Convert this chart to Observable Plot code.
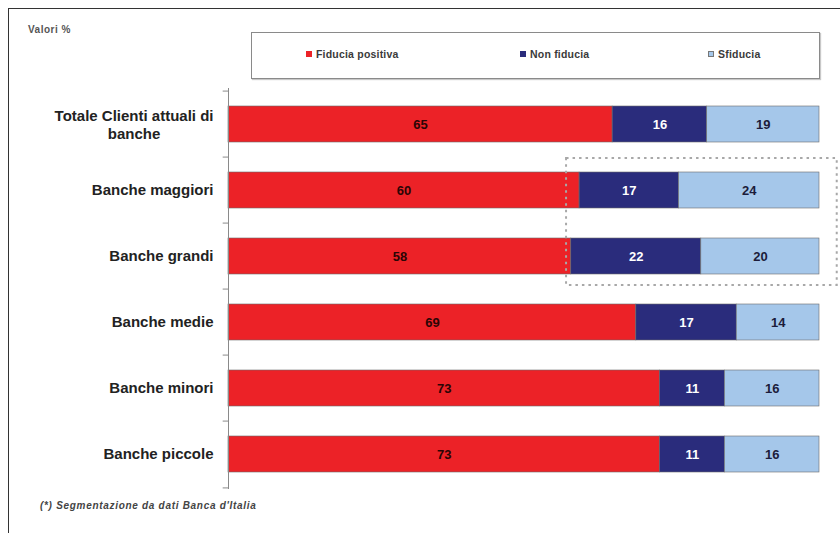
<!DOCTYPE html>
<html>
<head>
<meta charset="utf-8">
<script src="https://cdn.jsdelivr.net/npm/d3@7"></script>
<script src="https://cdn.jsdelivr.net/npm/@observablehq/plot@0.6"></script>
<style>
  html, body { margin: 0; padding: 0; background: #fff; }
  body { font-family: "Liberation Sans", Arial, sans-serif; }
  #wrap { position: relative; width: 840px; height: 533px; overflow: hidden; background: #fff; }
  #wrap svg { position: absolute; left: 0; top: 0; }
  .frame-top { position: absolute; left: 8px; top: 8px; width: 840px; height: 0; border-top: 1.5px solid #333; }
  .frame-left { position: absolute; left: 8px; top: 8px; width: 0; height: 540px; border-left: 1.5px solid #333; }
  .unit { position: absolute; left: 28px; top: 24px; font-size: 10px; letter-spacing: 0.5px; font-weight: bold; color: #555; }
  .legend { position: absolute; left: 251px; top: 32px; width: 567px; height: 45px; border: 1px solid #8a8a8a;
            box-shadow: 1px 1px 1px #c8c8c8; background: #fff; }
  .legend .item { position: absolute; top: 15px; font-size: 10.5px; letter-spacing: 0.2px; font-weight: bold; color: #3a3a3a; white-space: nowrap; }
  .legend .sw { display: inline-block; width: 6px; height: 6px; margin-right: 4px; vertical-align: 1px; box-sizing: border-box; }
  .note { position: absolute; left: 40px; top: 500px; font-size: 10px; letter-spacing: 0.7px; font-weight: bold; font-style: italic; color: #444; }
</style>
</head>
<body>
<div id="wrap"></div>
<script>
// Categories (top to bottom) and percentage values per series
const categories = [
  "Totale Clienti attuali di banche",
  "Banche maggiori",
  "Banche grandi",
  "Banche medie",
  "Banche minori",
  "Banche piccole"
];
const seriesNames = ["Fiducia positiva", "Non fiducia", "Sfiducia"];
const fiduciaPositiva = [65, 60, 58, 69, 73, 73];
const nonFiducia = [16, 17, 22, 17, 11, 11];
const sfiducia = [19, 24, 20, 14, 16, 16];
const seriesColors = ["#ec2227", "#2a2c7c", "#a5c7ea"];
const labelColors = ["#2a0505", "#ffffff", "#1c1c3a"];
const unitLabel = "Valori %";
const footnote = "(*) Segmentazione da dati Banca d'Italia";
const highlighted = ["Banche maggiori", "Banche grandi"];

const seriesValues = [fiduciaPositiva, nonFiducia, sfiducia];
const rows = [];
categories.forEach((cat, i) => {
  seriesNames.forEach((s, j) => rows.push({category: cat, series: s, value: seriesValues[j][i]}));
});

const W = 840, H = 533;
const mL = 228, mR = 21, mT = 88, mB = 44;
const pInner = 0.46;
const step = (H - mT - mB) / categories.length;

const labelSize = 15;
const labelFont = `bold ${labelSize}px 'Liberation Sans', Arial, sans-serif`;
const ctx = document.createElement("canvas").getContext("2d");
ctx.font = labelFont;
const wrapLabel = d => d === categories[0] ? "Totale Clienti attuali di\nbanche" : d;
const firstLineWidth = ctx.measureText("Totale Clienti attuali di").width;

const stackOpts = {x: "value", y: "category", z: "series", offset: "normalize"};

const plot = Plot.plot({
  width: W,
  height: H,
  marginLeft: mL,
  marginRight: mR,
  marginTop: mT,
  marginBottom: mB,
  style: {fontFamily: "'Liberation Sans', Arial, sans-serif", background: "transparent"},
  x: {domain: [0, 1], axis: null},
  y: {domain: categories, axis: null, paddingInner: pInner, paddingOuter: pInner / 2},
  color: {domain: seriesNames, range: seriesColors},
  marks: [
    Plot.barX(rows, Plot.stackX({...stackOpts, fill: "series", stroke: "#6b6b6b", strokeWidth: 0.6})),
    Plot.text(rows, Plot.stackX({
      ...stackOpts,
      text: "value",
      fill: d => labelColors[seriesNames.indexOf(d.series)],
      fontWeight: "bold",
      fontSize: 13
    })),
    // category axis line and boundary ticks
    Plot.ruleX([0], {stroke: "#8a8a8a", strokeWidth: 1}),
    Plot.ruleY(categories, {y: d => d, x1: -0.009, x2: 0, dy: -step / 2, stroke: "#8a8a8a"}),
    Plot.ruleY(categories.slice(-1), {y: d => d, x1: -0.009, x2: 0, dy: step / 2, stroke: "#8a8a8a"}),
    // category labels
    Plot.text(categories.slice(1), {
      x: 0, y: d => d, text: d => d, dx: -15, textAnchor: "end",
      fontWeight: "bold", fontSize: labelSize, fill: "#222"
    }),
    Plot.text(categories.slice(0, 1), {
      x: 0, y: d => d, text: wrapLabel, dx: -(15 + firstLineWidth / 2), textAnchor: "middle",
      lineHeight: 1.2, fontWeight: "bold", fontSize: labelSize, fill: "#222"
    })
  ]
});

const wrap = document.getElementById("wrap");
wrap.innerHTML = `
  <div class="frame-top"></div>
  <div class="frame-left"></div>
  <div class="unit">${unitLabel}</div>
  <div class="legend"></div>
  <div class="note">${footnote}</div>`;
wrap.appendChild(plot);

// legend entries
const legend = wrap.querySelector(".legend");
const legendLeft = [54, 268, 456];
seriesNames.forEach((s, i) => {
  const item = document.createElement("div");
  item.className = "item";
  item.style.left = legendLeft[i] + "px";
  const border = i === 2 ? "border:1px solid #777;" : "";
  item.innerHTML = `<span class="sw" style="background:${seriesColors[i]};${border}"></span>${s}`;
  legend.appendChild(item);
});

// dotted highlight around the two largest bank groups
const xs = plot.scale("x"), ys = plot.scale("y");
const bw = ys.bandwidth, gap = ys.step - ys.bandwidth;
const bx1 = xs.apply(0.572), bx2 = xs.apply(1.03);
const by1 = ys.apply(highlighted[0]) - gap / 2 + 1;
const by2 = ys.apply(highlighted[1]) + bw + gap / 2 - 4;
d3.select(plot).append("rect")
  .attr("x", bx1).attr("y", by1)
  .attr("width", bx2 - bx1).attr("height", by2 - by1)
  .attr("fill", "none")
  .attr("stroke", "#a8a8a8")
  .attr("stroke-width", 2)
  .attr("stroke-dasharray", "2.5,4");
</script>
</body>
</html>
